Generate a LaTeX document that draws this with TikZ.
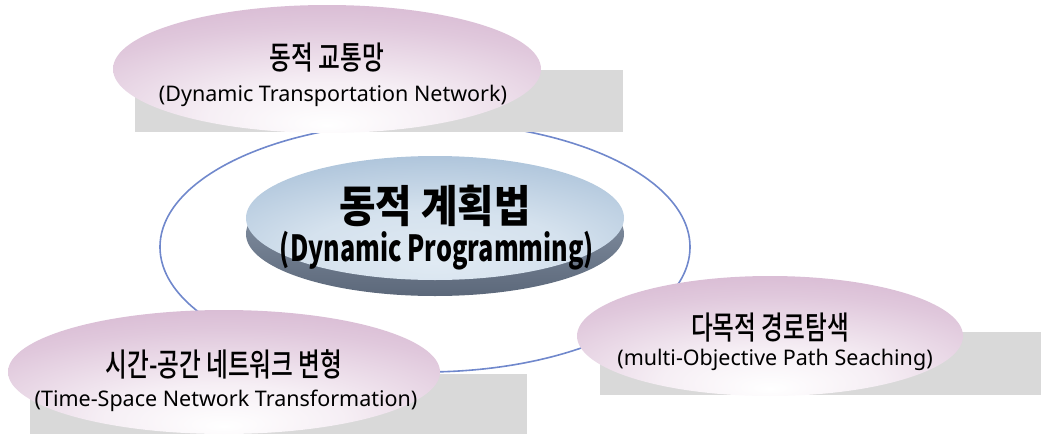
\documentclass[tikz,border=0pt]{standalone}
\usepackage{fontspec}
\newfontfamily\krtext[FakeStretch=0.74]{Noto Sans CJK KR Medium}
\newfontfamily\entext{Noto Sans}
\newfontfamily\krhead[FakeStretch=0.9]{Noto Sans CJK KR Black}
\newfontfamily\enhead[FakeStretch=0.7]{Noto Sans CJK KR Black}
\definecolor{ringblue}{RGB}{112,136,204}
\definecolor{shadowgrey}{RGB}{217,217,217}
\definecolor{pinkedge}{RGB}{208,172,202}
\definecolor{pinkmid}{RGB}{224,200,220}
\definecolor{bluetop}{RGB}{168,192,216}
\definecolor{bluelight}{RGB}{224,234,243}
\definecolor{sidedark}{RGB}{92,104,122}
\definecolor{sidelight}{RGB}{146,160,178}
\pgfdeclareradialshading{pinkglow}{\pgfpoint{0bp}{-22bp}}{%
  color(0bp)=(white); color(14bp)=(white!70!pinkmid); color(32bp)=(pinkmid);
  color(50bp)=(pinkedge); color(100bp)=(pinkedge)}
\pgfdeclareradialshading{blueglow}{\pgfpoint{0bp}{-18bp}}{%
  color(0bp)=(bluelight); color(18bp)=(bluelight!80!bluetop); color(40bp)=(bluetop);
  color(50bp)=(bluetop!88!black); color(100bp)=(bluetop!88!black)}
\tikzset{
  topic/.style={shading=pinkglow},
  every node/.style={inner sep=0pt},
  krline/.style={font=\krtext\fontsize{32}{34}\selectfont},
  enline/.style={font=\entext\fontsize{21.5}{24}\selectfont},
}
\begin{document}
\begin{tikzpicture}[x=1pt,y=-1pt]
\useasboundingbox (0,0) rectangle (1041,434);
% outer ring
\draw[ringblue, line width=1.6pt] (425,247) ellipse [x radius=265, y radius=125];
% grey panels behind the topics
\fill[shadowgrey] (135,70) rectangle (623,132);
\fill[shadowgrey] (30,374) rectangle (527,434);
\fill[shadowgrey] (600,332) rectangle (1041,395);
% topic ellipses
\shade[topic] (327,69) ellipse [x radius=214, y radius=64];
\shade[topic] (224,372) ellipse [x radius=216, y radius=62];
\shade[topic] (770,336) ellipse [x radius=193, y radius=60];
% central disc: side then top face
\shade[top color=sidelight, bottom color=sidedark] (435,234) ellipse [x radius=189, y radius=62];
\shade[shading=blueglow] (435,218) ellipse [x radius=189, y radius=62];
% labels
\node[krline] (t1k) at (327,58) {동적 교통망};
\node[enline] (t1e) at (333,96) {(Dynamic Transportation Network)};
\node[font=\krhead\fontsize{44}{46}\selectfont] (ck) at (435,206) {동적 계획법};
\node[font=\enhead\fontsize{36}{38}\selectfont] (ce) at (437,251) {(Dynamic Programming)};
\node[krline] (t2k) at (224,364) {시간-공간 네트워크 변형};
\node[enline] (t2e) at (226,401) {(Time-Space Network Transformation)};
\node[krline] (t3k) at (770,328) {다목적 경로탐색};
\node[enline] (t3e) at (775,360) {(multi-Objective Path Seaching)};
\end{tikzpicture}
\end{document}
